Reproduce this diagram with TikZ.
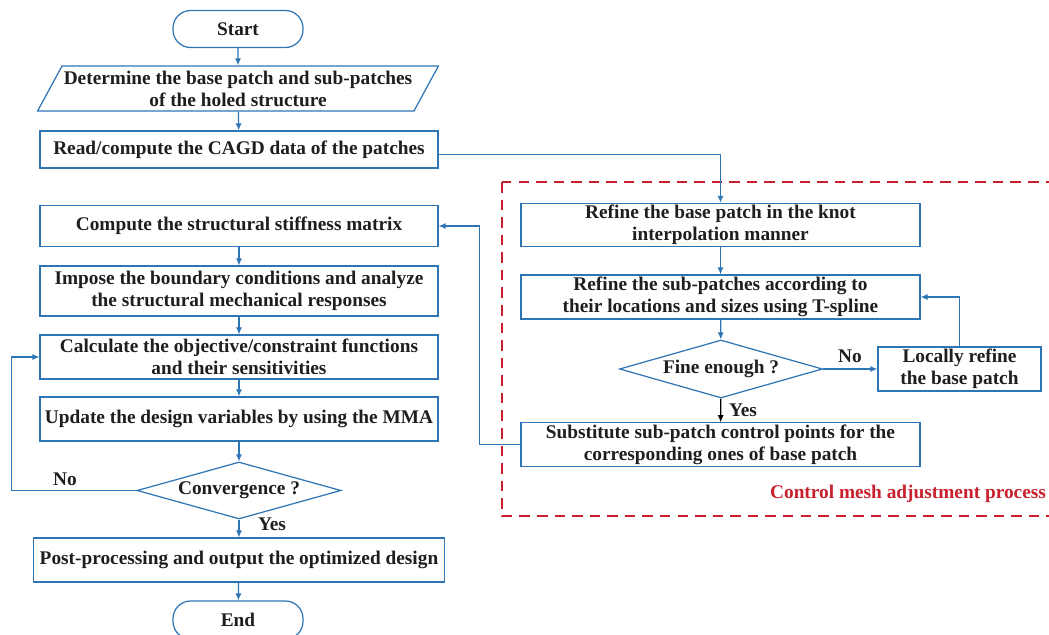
\documentclass[tikz,border=0pt]{standalone}
\usepackage{fontspec}
\setmainfont{Liberation Serif}
\usetikzlibrary{shapes.geometric,arrows.meta}
\definecolor{flowblue}{RGB}{46,117,182}
\definecolor{procred}{RGB}{200,32,44}
\definecolor{txtgray}{RGB}{30,30,30}
\tikzset{
  base/.style={draw=flowblue, line width=0.7pt, text=txtgray, font=\fontsize{11}{12.5}\selectfont\bfseries, align=center, inner sep=1pt},
  procbox/.style={base, rectangle, minimum width=7.96cm, minimum height=0.88cm},
  termbox/.style={base, rectangle, rounded corners=10pt, minimum width=2.6cm, minimum height=0.74cm},
  iobox/.style={base, trapezium, trapezium left angle=58, trapezium right angle=122, trapezium stretches=true, minimum width=7.98cm, minimum height=0.9cm},
  decbox/.style={base, diamond, aspect=3.5, minimum width=4.08cm, minimum height=1.14cm},
  lbl/.style={text=txtgray, font=\fontsize{11}{12.5}\selectfont\bfseries, inner sep=1pt},
  arr/.style={draw=flowblue, line width=0.7pt, -{Latex[length=4pt,width=3.5pt]}}
}
\begin{document}
\begin{tikzpicture}[x=0.02cm, y=-0.02cm]
  \useasboundingbox (0,0) rectangle (1049,635);
  \node[termbox] (start) at (238,29) {Start};
  \node[iobox] (determine) at (238,88.5) {Determine the base patch and sub-patches\\of the holed structure};
  \node[procbox, minimum height=0.74cm] (read) at (239,149.5) {Read/compute the CAGD data of the patches};
  \node[procbox, minimum height=0.82cm] (stiff) at (239,226) {Compute the structural stiffness matrix};
  \node[procbox, minimum height=1.0cm] (impose) at (239,291) {Impose the boundary conditions and analyze\\the structural mechanical responses};
  \node[procbox] (calc) at (239,357) {Calculate the objective/constraint functions\\and their sensitivities};
  \node[procbox] (update) at (239,419) {Update the design variables by using the MMA};
  \node[decbox] (conv) at (239,490.5) {Convergence ?};
  \node[procbox, minimum width=8.22cm] (post) at (239,560) {Post-processing and output the optimized design};
  \node[termbox, minimum height=0.76cm] (end) at (238,620) {End};

  \node[procbox, minimum width=7.98cm, minimum height=0.84cm] (refbase) at (720.5,225) {Refine the base patch in the knot\\interpolation manner};
  \node[procbox, minimum width=7.98cm] (refsub) at (720.5,297) {Refine the sub-patches according to\\their locations and sizes using T-spline};
  \node[decbox, minimum width=4.06cm, minimum height=1.16cm] (fine) at (721,369) {Fine enough ?};
  \node[procbox, minimum width=3.26cm] (local) at (959.5,369) {Locally refine\\the base patch};
  \node[procbox, minimum width=7.98cm, minimum height=0.86cm] (subst) at (720.5,444.5) {Substitute sub-patch control points for the\\corresponding ones of base patch};

  \draw[draw=procred, line width=1.1pt, dash pattern=on 6pt off 4pt] (502,182) rectangle (1060,516);
  \node[lbl, text=procred, anchor=east] (proclabel) at (1048,494) {Control mesh adjustment process};

  \node[lbl] (no1) at (65,479) {No};
  \node[lbl] (yes1) at (272,524) {Yes};
  \node[lbl] (no2) at (850,356) {No};
  \node[lbl] (yes2) at (743,410) {Yes};

  \draw[arr] (start) to (determine); \draw[arr] (determine) to (read); \draw[arr] (stiff) to (impose); \draw[arr] (impose) to (calc);
  \draw[arr] (calc) to (update); \draw[arr] (update) to (conv); \draw[arr] (conv) to (post); \draw[arr] (post) to (end);
  \draw[arr] (conv.west) -- ++(-125,0) |- (calc.west);
  \draw[arr] ([yshift=-3pt]read.east) -| (refbase.north);
  \draw[arr] (refbase) to (refsub); \draw[arr] (refsub) to (fine); \draw[arr] (fine) to (local);
  \draw[arr, draw=black] (fine) to (subst);
  \draw[arr] (local.north) |- (refsub.east);
  \draw[arr] (subst.west) -- ++(-41,0) |- (stiff.east);
\end{tikzpicture}
\end{document}
